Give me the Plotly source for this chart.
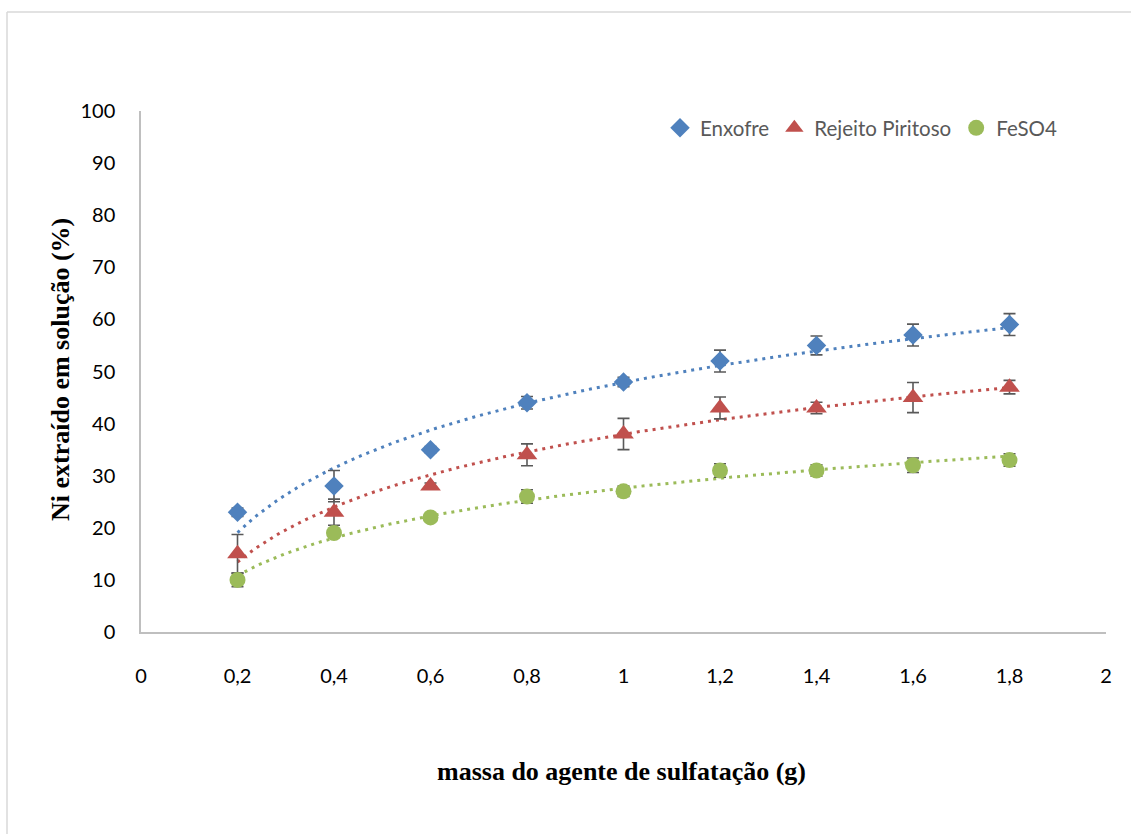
import numpy as np
import plotly.graph_objects as go

# ---- data ----
massa = [0.2, 0.4, 0.6, 0.8, 1.0, 1.2, 1.4, 1.6, 1.8]
enxofre = [23, 28, 35, 44, 48, 52, 55, 57, 59]
enxofre_err = [0.8, 3.0, 0.6, 1.2, 0.9, 2.1, 1.8, 2.1, 2.1]
rejeito = [15, 23, 28, 34, 38, 43, 43, 45, 47]
rejeito_err = [3.7, 2.5, 0.6, 2.1, 3.0, 2.1, 1.1, 2.9, 1.3]
feso4 = [10, 19, 22, 26, 27, 31, 31, 32, 33]
feso4_err = [1.3, 0.8, 0.5, 1.3, 1.0, 1.3, 1.1, 1.4, 1.2]

series_names = ["Enxofre", "Rejeito Piritoso", "FeSO4"]
colors = ["#4F81BD", "#C0504D", "#9BBB59"]
symbols = ["diamond", "triangle-up", "circle"]
sizes = [15, 18, 16]

x_title = "massa do agente de sulfatação (g)"
y_title = "Ni extraído em solução (%)"

W, H = 1131, 834
L, R, T, B = 141, 25, 111, 202
pw, ph = W - L - R, H - T - B

fig = go.Figure()

xs = np.array(massa)
xfine = np.linspace(xs.min(), xs.max(), 200)
for ys, col in zip([enxofre, rejeito, feso4], colors):
    # logarithmic trendline (least-squares fit of the data)
    a, b = np.polyfit(np.log(xs), np.array(ys, dtype=float), 1)
    fig.add_trace(go.Scatter(x=xfine, y=a * np.log(xfine) + b, mode="lines",
                             line=dict(color=col, width=3, dash="3px,5px"),
                             showlegend=False, hoverinfo="skip"))
for ys, err, name, col, sym, sz in zip([enxofre, rejeito, feso4],
                                       [enxofre_err, rejeito_err, feso4_err],
                                       series_names, colors, symbols, sizes):
    fig.add_trace(go.Scatter(x=massa, y=ys, mode="markers", name=name,
                             marker=dict(symbol=sym, color=col, size=sz),
                             error_y=dict(type="data", array=err, color="#595959",
                                          thickness=1.6, width=6)))

def px_x(px):
    return (px - L) / pw

def px_y(py):
    return (H - B - py) / ph

fig.update_layout(
    width=W, height=H,
    margin=dict(l=L, r=R, t=T, b=B, autoexpand=False),
    paper_bgcolor="white", plot_bgcolor="white",
    separators=",.",
    font=dict(family="Lato, Open Sans, sans-serif", size=19, color="#000000"),
    showlegend=True,
    legend=dict(orientation="h", x=px_x(660), y=px_y(128), xanchor="left", yanchor="middle",
                font=dict(size=20.5, color="#595959"), itemwidth=30,
                bgcolor="rgba(0,0,0,0)"),
    xaxis=dict(range=[0, 2], dtick=0.2, tick0=0, showgrid=False, zeroline=False,
               showline=True, linecolor="#BFBFBF", linewidth=1.5,
               ticks="outside", ticklen=25, tickcolor="rgba(0,0,0,0)",
               tickfont=dict(size=20, color="#000000")),
    yaxis=dict(range=[0, 100], dtick=10, tick0=0, showgrid=False, zeroline=False,
               showline=True, linecolor="#BFBFBF", linewidth=1.5,
               ticks="outside", ticklen=20, tickcolor="rgba(0,0,0,0)",
               tickfont=dict(size=20, color="#000000")),
    annotations=[
        dict(text="<b>" + x_title + "</b>", xref="paper", yref="paper",
             x=px_x(621), y=px_y(771), showarrow=False, xanchor="center", yanchor="middle",
             font=dict(family="Liberation Serif, Times New Roman, serif", size=26, color="#000000")),
        dict(text="<b>" + y_title + "</b>", xref="paper", yref="paper",
             x=px_x(60), y=px_y(370), showarrow=False, xanchor="center", yanchor="middle",
             textangle=-90,
             font=dict(family="Liberation Serif, Times New Roman, serif", size=26, color="#000000")),
    ],
    shapes=[
        dict(type="line", xref="paper", yref="paper", x0=px_x(7), x1=px_x(W + 5),
             y0=px_y(12), y1=px_y(12), line=dict(color="#D9D9D9", width=1.5)),
        dict(type="line", xref="paper", yref="paper", x0=px_x(7), x1=px_x(7),
             y0=px_y(12), y1=px_y(H + 5), line=dict(color="#D9D9D9", width=1.5)),
    ],
)

fig.write_html("out.html")
